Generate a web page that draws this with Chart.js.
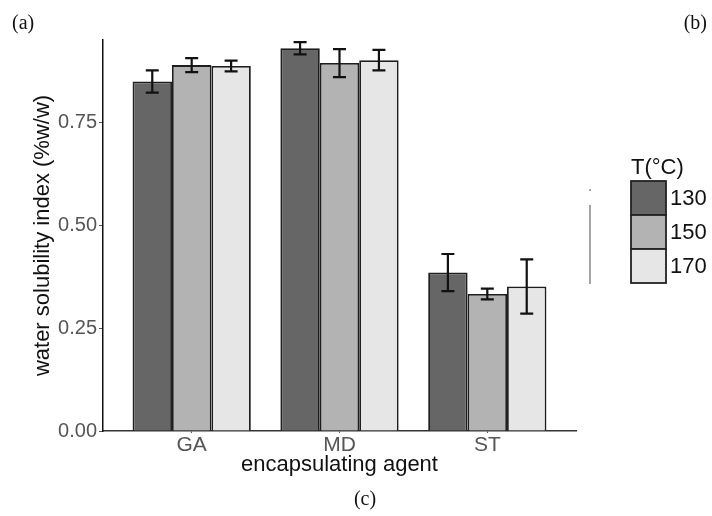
<!DOCTYPE html>
<html>
<head>
<meta charset="utf-8">
<script src="https://cdn.jsdelivr.net/npm/chart.js@4.4.1/dist/chart.umd.min.js"></script>
<style>
  body { margin: 0; background: #fff; }
  #wrap { width: 712px; height: 516px; }
</style>
</head>
<body>
<div id="wrap"><canvas id="grafico" width="712" height="516"></canvas></div>
<script>
const agents = ['GA', 'MD', 'ST'];
const temps = ['130', '150', '170'];
const wsi130 = [0.849, 0.930, 0.385];
const wsi150 = [0.889, 0.894, 0.333];
const wsi170 = [0.887, 0.901, 0.351];
const err130 = [0.027, 0.015, 0.045];
const err150 = [0.017, 0.034, 0.013];
const err170 = [0.013, 0.025, 0.066];
const yTicks = [0, 0.25, 0.5, 0.75];

const sans = '"Liberation Sans", Arial, sans-serif';
const serif = '"Liberation Serif", "Times New Roman", serif';

function serie(valores) {
    return valores.map((v, i) => ({ x: i, y: v }));
}

// barras de erro (media +/- desvio) desenhadas com as escalas do grafico
const errorBars = {
    id: 'errorBars',
    afterDatasetsDraw(chart) {
        const ctx = chart.ctx;
        const y = chart.scales.y;
        ctx.save();
        ctx.strokeStyle = '#111';
        ctx.lineWidth = 2.2;
        chart.data.datasets.forEach((ds, d) => {
            const meta = chart.getDatasetMeta(d);
            meta.data.forEach((bar, i) => {
                const m = ds.data[i].y;
                const e = ds.erros[i];
                const top = y.getPixelForValue(m + e);
                const bot = y.getPixelForValue(m - e);
                ctx.beginPath();
                ctx.moveTo(bar.x, top); ctx.lineTo(bar.x, bot);
                ctx.moveTo(bar.x - 6.5, top); ctx.lineTo(bar.x + 6.5, top);
                ctx.moveTo(bar.x - 6.5, bot); ctx.lineTo(bar.x + 6.5, bot);
                ctx.stroke();
            });
        });
        ctx.restore();
    }
};

// legenda estilo ggplot + rotulos dos paineis
const extras = {
    id: 'extras',
    afterDraw(chart) {
        const ctx = chart.ctx;
        const area = chart.chartArea;
        ctx.save();

        // legenda
        const lx = area.right + 55;
        let ly = 181;
        ctx.fillStyle = '#111';
        ctx.font = '22px ' + sans;
        ctx.textAlign = 'left';
        ctx.textBaseline = 'middle';
        ctx.fillText('T(°C)', lx, 168);
        chart.data.datasets.forEach((ds) => {
            ctx.fillStyle = ds.backgroundColor;
            ctx.fillRect(lx, ly, 35, 34);
            ctx.strokeStyle = '#222';
            ctx.lineWidth = 1.8;
            ctx.strokeRect(lx, ly, 35, 34);
            ctx.fillStyle = '#111';
            ctx.fillText(ds.label, lx + 39, ly + 18);
            ly += 34;
        });

        // resto do painel (b) que aparece na figura
        ctx.strokeStyle = '#888';
        ctx.lineWidth = 1.5;
        ctx.beginPath();
        ctx.moveTo(area.right + 14, 189); ctx.lineTo(area.right + 14, 191);
        ctx.moveTo(area.right + 14, 205); ctx.lineTo(area.right + 14, 284);
        ctx.stroke();

        // rotulos (a) (b) (c)
        ctx.fillStyle = '#111';
        ctx.font = '20px ' + serif;
        ctx.textAlign = 'left';
        ctx.fillText('(a)', 12, 24);
        ctx.textAlign = 'right';
        ctx.fillText('(b)', 707, 24);
        ctx.textAlign = 'center';
        ctx.fillText('(c)', 365, 500);
        ctx.restore();
    }
};

const cores = ['#666666', '#b3b3b3', '#e6e6e6'];
const valores = [wsi130, wsi150, wsi170];
const erros = [err130, err150, err170];

new Chart(document.getElementById('grafico'), {
    type: 'bar',
    data: {
        datasets: temps.map((t, k) => ({
            label: t,
            data: serie(valores[k]),
            erros: erros[k],
            backgroundColor: cores[k],
            borderColor: '#1e1e1e',
            borderWidth: 1.8,
            categoryPercentage: 0.8,
            barPercentage: 1
        }))
    },
    options: {
        responsive: false,
        animation: false,
        layout: { padding: { left: 0, top: 40, right: 136, bottom: 0 } },
        plugins: {
            legend: { display: false },
            tooltip: { enabled: false }
        },
        scales: {
            x: {
                type: 'linear',
                min: -0.6,
                max: 2.6,
                offset: false,
                afterBuildTicks: (axis) => { axis.ticks = agents.map((a, i) => ({ value: i })); },
                afterFit: (scale) => { scale.height = 85; },
                ticks: {
                    color: '#555',
                    font: { family: sans, size: 21 },
                    padding: 0,
                    callback: (v) => agents[v]
                },
                grid: { offset: false, drawOnChartArea: false, tickLength: 2, color: '#555' },
                border: { display: true, color: '#333', width: 1.5 },
                title: {
                    display: true,
                    text: 'encapsulating agent',
                    color: '#111',
                    font: { family: sans, size: 22 },
                    padding: { top: 0, bottom: 38 }
                }
            },
            y: {
                min: 0,
                max: 0.95,
                afterBuildTicks: (axis) => { axis.ticks = yTicks.map(v => ({ value: v })); },
                afterFit: (scale) => { scale.width = 103; },
                ticks: {
                    color: '#555',
                    font: { family: sans, size: 20 },
                    padding: 2,
                    callback: (v) => v.toFixed(2)
                },
                grid: { drawOnChartArea: false, tickLength: 4, color: '#555' },
                border: { display: true, color: '#111', width: 1.5 },
                title: {
                    display: true,
                    text: 'water solubility index (%w/w)',
                    color: '#111',
                    font: { family: sans, size: 22 },
                    padding: { top: 30, bottom: 0 }
                }
            }
        }
    },
    plugins: [errorBars, extras]
});
</script>
</body>
</html>
